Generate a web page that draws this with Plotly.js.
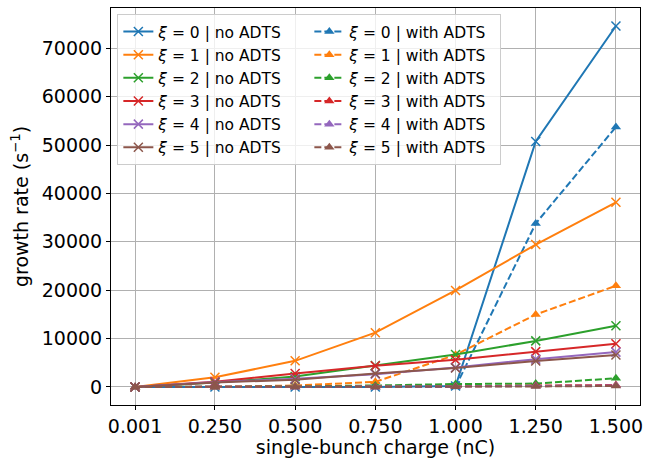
<!DOCTYPE html>
<html>
<head>
<meta charset="utf-8">
<script src="https://cdn.plot.ly/plotly-3.0.1.min.js"></script>
<style>html,body{margin:0;padding:0;background:#fff;}#chart{width:646px;height:458px;}</style>
</head>
<body>
<div id="chart"></div>
<script>
const charge = [0.001, 0.25, 0.5, 0.75, 1.0, 1.25, 1.5];
const chargeLabels = ["0.001", "0.250", "0.500", "0.750", "1.000", "1.250", "1.500"];
const xiValues = [0, 1, 2, 3, 4, 5];
const colors = ["#1f77b4", "#ff7f0e", "#2ca02c", "#d62728", "#9467bd", "#8c564b"];

const noAdts0 = [0, 0, 0, 0, 200, 50750, 74600];
const noAdts1 = [0, 2000, 5400, 11220, 19940, 29430, 38160];
const noAdts2 = [0, 900, 2150, 4450, 6700, 9520, 12650];
const noAdts3 = [0, 1100, 2770, 4360, 5600, 7300, 8950];
const noAdts4 = [0, 1000, 1700, 2650, 4000, 5750, 7200];
const noAdts5 = [0, 900, 1500, 2800, 3900, 5350, 6600];

const withAdts0 = [0, 0, 0, 0, 0, 33800, 53740];
const withAdts1 = [0, 0, 300, 1050, 6650, 14960, 20920];
const withAdts2 = [0, 0, 100, 300, 600, 700, 1800];
const withAdts3 = [0, 0, 0, 0, 100, 300, 400];
const withAdts4 = [0, 0, 0, 0, 100, 200, 300];
const withAdts5 = [0, 0, 0, 0, 50, 100, 200];

const noAdts = [noAdts0, noAdts1, noAdts2, noAdts3, noAdts4, noAdts5];
const withAdts = [withAdts0, withAdts1, withAdts2, withAdts3, withAdts4, withAdts5];

const noTraces = [], withTraces = [];
xiValues.forEach((xi, i) => {
  noTraces.push({
    x: charge, y: noAdts[i], type: 'scatter', mode: 'lines+markers',
    name: '<i>\u03BE</i> = ' + xi + ' | no ADTS',
    line: {color: colors[i], width: 2},
    marker: {symbol: 'x-thin-open', size: 9, color: colors[i], line: {color: colors[i], width: 1.5}}
  });
  withTraces.push({
    x: charge, y: withAdts[i], type: 'scatter', mode: 'lines+markers',
    name: '<i>\u03BE</i> = ' + xi + ' | with ADTS',
    line: {color: colors[i], width: 2, dash: '7px,3px'},
    marker: {symbol: 'triangle-up', size: 9, color: colors[i]}
  });
});
const traces = [];
for (let i = 0; i < xiValues.length; i++) { traces.push(noTraces[i]); traces.push(withTraces[i]); }

const font = {family: 'DejaVu Sans, sans-serif', size: 19, color: '#000'};
const layout = {
  width: 646, height: 458,
  margin: {l: 111, r: 6, t: 8, b: 53},
  paper_bgcolor: '#fff', plot_bgcolor: '#fff',
  font: font,
  showlegend: true,
  legend: {
    x: 0.012, y: 0.985, xanchor: 'left', yanchor: 'top',
    orientation: 'h', entrywidth: 146, entrywidthmode: 'pixels',
    font: {family: 'DejaVu Sans, sans-serif', size: 15.5, color: '#000'},
    bgcolor: 'rgba(255,255,255,0.8)', bordercolor: '#cccccc', borderwidth: 1,
    tracegroupgap: 0, itemwidth: 30
  },
  xaxis: {
    range: [-0.074, 1.575],
    tickmode: 'array', tickvals: charge, ticktext: chargeLabels,
    showgrid: true, gridcolor: '#b0b0b0', gridwidth: 1,
    zeroline: false, showline: true, linecolor: '#000', linewidth: 1, mirror: true,
    ticks: 'outside', ticklen: 4, tickcolor: '#000',
    tickfont: font,
    automargin: false,
    title: {text: 'single-bunch charge (nC)', font: font, standoff: 2}
  },
  yaxis: {
    range: [-3730, 78330],
    tickmode: 'array', tickvals: [0, 10000, 20000, 30000, 40000, 50000, 60000, 70000],
    ticktext: ['0', '10000', '20000', '30000', '40000', '50000', '60000', '70000'],
    showgrid: true, gridcolor: '#b0b0b0', gridwidth: 1,
    zeroline: false, showline: true, linecolor: '#000', linewidth: 1, mirror: true,
    ticks: 'outside', ticklen: 4, tickcolor: '#000',
    tickfont: font,
    title: {text: 'growth rate (s<sup>\u22121</sup>)', font: font, standoff: 8}
  }
};
Plotly.newPlot('chart', traces, layout, {displayModeBar: false, staticPlot: true});
</script>
</body>
</html>
